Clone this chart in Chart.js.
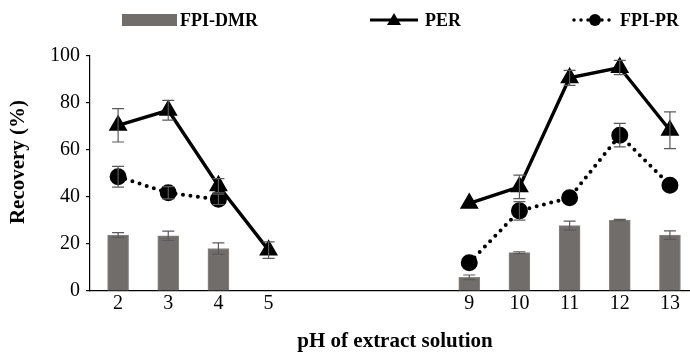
<!DOCTYPE html>
<html><head><meta charset="utf-8">
<script src="https://cdn.jsdelivr.net/npm/chart.js@4/dist/chart.umd.min.js"></script>
<style>html,body{margin:0;padding:0;background:#fff;overflow:hidden}canvas{display:block}</style>
</head><body><canvas id="c" width="690" height="355" style="width:690px;height:355px"></canvas>
<script>
const pH = [2,3,4,5,6,7,8,9,10,11,12,13];
const tickLabels = [2,3,4,5,9,10,11,12,13];
const fpiDmr    = [23.8,23.5,18.1,null,null,null,null,5.8,16.3,27.8,30.2,23.8];
const fpiDmrErr = [1.0,2.0,2.4,null,null,null,null,1.0,0.4,1.9,0.3,1.8];
const per       = [70.5,76.9,44.8,17.4,null,null,null,37.3,44.3,90.7,95.1,68.4];
const perErr    = [7.1,4.2,3.0,3.5,null,null,null,0,5.0,3.2,3.0,7.8];
const fpiPr     = [48.6,41.8,39.0,null,null,null,null,12.0,34.1,39.7,66.3,45.0];
const fpiPrErr  = [4.4,2.6,2.2,null,null,null,null,0,3.9,0,5.0,0];
const xTitle = 'pH of extract solution';
const yTitle = 'Recovery (%)';

const FONT = "'Liberation Serif', 'Times New Roman', serif";
const GRAY = '#716d6b';
const toPts = arr => pH.map((x,i)=>({x:x, y:arr[i]}));

const errorBars = {
  id:'errorBars',
  afterDatasetsDraw(chart){
    const ctx = chart.ctx, xs = chart.scales.x, ys = chart.scales.y;
    chart.data.datasets.forEach((ds)=>{
      if(!ds.errors) return;
      ctx.save();
      ctx.strokeStyle = '#5a5a5a'; ctx.lineWidth = 1.2;
      ds.errors.forEach((e,i)=>{
        const v = ds.data[i].y;
        if(v==null || !e) return;
        const x = xs.getPixelForValue(pH[i]);
        const t = ys.getPixelForValue(v+e), b = ys.getPixelForValue(v-e);
        const w = 6;
        ctx.beginPath();
        ctx.moveTo(x,t); ctx.lineTo(x,b);
        ctx.moveTo(x-w,t); ctx.lineTo(x+w,t);
        ctx.moveTo(x-w,b); ctx.lineTo(x+w,b);
        ctx.stroke();
      });
      ctx.restore();
    });
  }
};

const legendPlugin = {
  id:'customLegend',
  afterDraw(chart){
    const ctx = chart.ctx; const y = 20;
    const ds = chart.data.datasets;
    ctx.save();
    ctx.font = "bold 18px " + FONT; ctx.fillStyle = '#000'; ctx.textBaseline = 'middle';
    ctx.fillStyle = GRAY; ctx.fillRect(122, 14, 55, 12);
    ctx.fillStyle = '#000'; ctx.fillText(ds[2].label, 180, y+1);
    ctx.strokeStyle = '#000'; ctx.lineWidth = 3;
    ctx.beginPath(); ctx.moveTo(370,y); ctx.lineTo(418,y); ctx.stroke();
    ctx.beginPath(); ctx.moveTo(394,y-7); ctx.lineTo(401,y+5); ctx.lineTo(387,y+5); ctx.closePath(); ctx.fill();
    ctx.fillText(ds[0].label, 425, y+1);
    ctx.lineWidth = 3.5; ctx.lineCap = 'round'; ctx.setLineDash([0,7]);
    ctx.beginPath(); ctx.moveTo(574,y); ctx.lineTo(616,y); ctx.stroke();
    ctx.setLineDash([]);
    ctx.beginPath(); ctx.arc(595,y,6,0,Math.PI*2); ctx.fill();
    ctx.fillText(ds[1].label, 620, y+1);
    ctx.font = "bold 21px " + FONT; ctx.textAlign = 'center'; ctx.textBaseline = 'middle';
    ctx.fillText(xTitle, 395, 342);
    ctx.translate(19, 162); ctx.rotate(-Math.PI/2);
    ctx.fillText(yTitle, 0, 0);
    ctx.restore();
  }
};

new Chart(document.getElementById('c'), {
  data:{
    datasets:[
      {type:'line', label:'PER', data:toPts(per), errors:perErr, borderColor:'#000', backgroundColor:'#000',
       borderWidth:3.4, pointStyle:'triangle', pointRadius:7.5, pointHoverRadius:7.5, spanGaps:false, order:1},
      {type:'line', label:'FPI-PR', data:toPts(fpiPr), errors:fpiPrErr, borderColor:'#000', backgroundColor:'#000',
       borderWidth:4, borderDash:[0,7.5], borderCapStyle:'round', pointStyle:'circle', pointRadius:6.5, pointHoverRadius:6.5, spanGaps:false, order:2},
      {type:'bar', label:'FPI-DMR', data:toPts(fpiDmr), errors:fpiDmrErr, backgroundColor:GRAY, borderColor:'#8a8684', borderWidth:1,
       barThickness:21, order:3}
    ]
  },
  options:{
    responsive:false, maintainAspectRatio:false, animation:false, devicePixelRatio:1,
    layout:{autoPadding:false, padding:{top:56, right:0, left:0, bottom:0}},
    plugins:{legend:{display:false}, tooltip:{enabled:false}},
    scales:{
      x:{type:'linear', min:1.44, max:13.4, offset:false,
         grid:{display:false, drawTicks:false}, border:{display:true, color:'#000', width:1.2},
         afterBuildTicks(s){ s.ticks = tickLabels.map(v=>({value:v})); },
         afterFit(s){ s.height = 64; },
         ticks:{color:'#000', font:{family:FONT, size:20}, padding:1, autoSkip:false, maxRotation:0}
      },
      y:{min:0, max:100,
         grid:{display:true, drawOnChartArea:false, drawTicks:true, tickLength:4, color:'#000', lineWidth:1.2},
         border:{display:true, color:'#000', width:1.2},
         afterFit(s){ s.width = 90; },
         ticks:{stepSize:20, color:'#000', font:{family:FONT, size:20}, padding:6}
      }
    }
  },
  plugins:[errorBars, legendPlugin]
});
</script></body></html>
